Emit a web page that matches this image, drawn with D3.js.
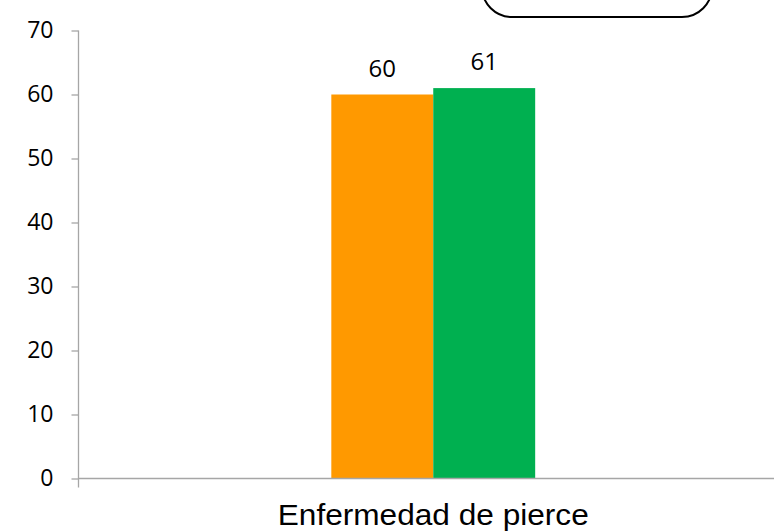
<!DOCTYPE html>
<html>
<head>
<meta charset="utf-8">
<script src="https://cdn.jsdelivr.net/npm/d3@7"></script>
<style>
  body { margin: 0; background: #fff; }
  svg { display: block; }
</style>
</head>
<body>
<script>
// Data
const categories = ['Enfermedad de pierce'];
const seriesNames = ['Serie 1', 'Serie 2'];
const seriesValues = [60, 61];
const seriesColors = ['#FF9900', '#00B050'];
const yTicks = [0, 10, 20, 30, 40, 50, 60, 70];

const W = 774, H = 531;
// plot area (right side runs past the window edge)
const plot = { left: 78.5, right: 788, top: 30.5, bottom: 478.5 };

const svg = d3.select('body').append('svg')
  .attr('width', W)
  .attr('height', H);

const y = d3.scaleLinear().domain([0, 70]).range([plot.bottom, plot.top]);

const x = d3.scaleBand()
  .domain(categories)
  .range([plot.left, plot.right])
  .paddingInner(0.5536)
  .paddingOuter(0.5536);

const xs = d3.scaleBand()
  .domain(seriesNames)
  .range([0, x.bandwidth()]);

// Y axis
const yAxis = svg.append('g')
  .attr('transform', `translate(${plot.left},0)`)
  .call(d3.axisLeft(y).tickValues(yTicks).tickSize(7).tickPadding(18));
yAxis.select('.domain').remove();
yAxis.selectAll('.tick line').attr('stroke', '#a6a6a6').attr('stroke-width', 1.3);
yAxis.selectAll('.tick text')
  .attr('fill', '#000')
  .style('font-family', '"Open Sans", sans-serif')
  .style('font-size', '23px');

svg.append('line')
  .attr('x1', plot.left).attr('x2', plot.left)
  .attr('y1', plot.top).attr('y2', plot.bottom + 9)
  .attr('stroke', '#a6a6a6').attr('stroke-width', 1.3);

// bars
const grp = svg.append('g')
  .selectAll('g')
  .data(categories)
  .join('g')
  .attr('transform', d => `translate(${x(d)},0)`);

grp.selectAll('rect')
  .data(() => seriesNames.map((s, i) => ({ s, v: seriesValues[i], c: seriesColors[i] })))
  .join('rect')
  .attr('x', d => xs(d.s))
  .attr('y', d => y(d.v))
  .attr('width', xs.bandwidth())
  .attr('height', d => y(0) - y(d.v))
  .attr('fill', d => d.c);

// data labels
grp.selectAll('text')
  .data(() => seriesNames.map((s, i) => ({ s, v: seriesValues[i] })))
  .join('text')
  .attr('x', d => xs(d.s) + xs.bandwidth() / 2)
  .attr('y', d => y(d.v) - 18)
  .attr('text-anchor', 'middle')
  .style('font-family', '"Open Sans", sans-serif')
  .style('font-size', '24px')
  .text(d => d.v);

// X axis line
svg.append('line')
  .attr('x1', plot.left).attr('x2', W)
  .attr('y1', plot.bottom).attr('y2', plot.bottom)
  .attr('stroke', '#a6a6a6').attr('stroke-width', 1.3);

// category label
svg.append('g')
  .selectAll('text')
  .data(categories)
  .join('text')
  .attr('x', d => x(d) + x.bandwidth() / 2)
  .attr('y', 525)
  .attr('text-anchor', 'middle')
  .attr('textLength', 311)
  .attr('lengthAdjust', 'spacingAndGlyphs')
  .style('font-family', '"Liberation Sans", Arial, sans-serif')
  .style('font-size', '30px')
  .text(d => d);

// legend box, mostly above the visible area
svg.append('rect')
  .attr('x', 482).attr('y', -60)
  .attr('width', 230).attr('height', 77)
  .attr('rx', 30).attr('ry', 30)
  .attr('fill', '#fff')
  .attr('stroke', '#000')
  .attr('stroke-width', 2);
</script>
</body>
</html>
